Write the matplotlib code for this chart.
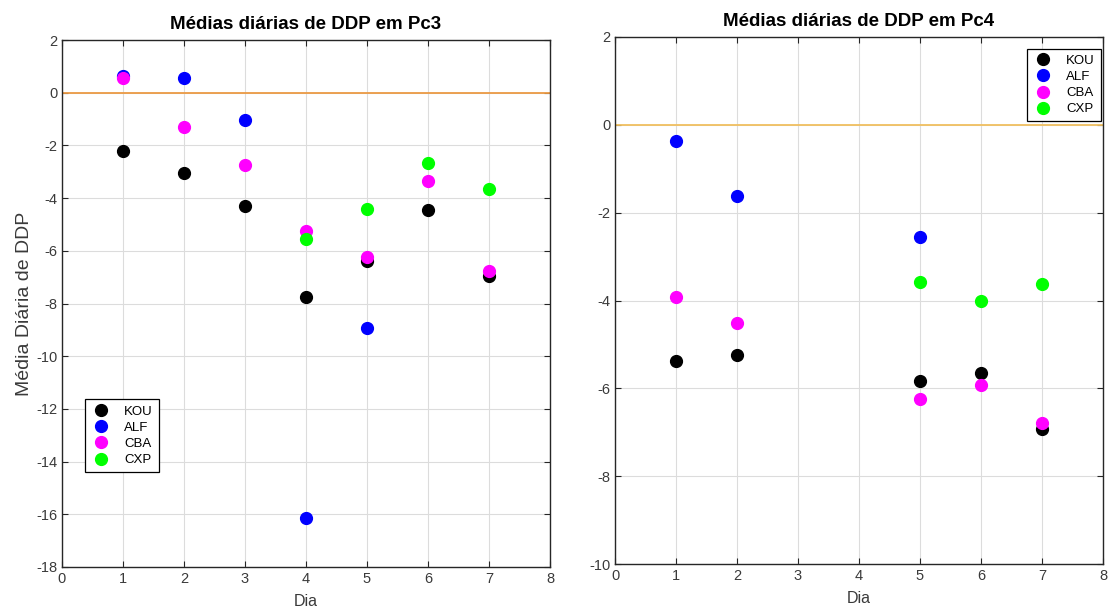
import matplotlib
matplotlib.use("Agg")
import matplotlib.pyplot as plt
import numpy as np

plt.rcParams['font.family'] = ['Liberation Sans', 'DejaVu Sans']
plt.rcParams['axes.unicode_minus'] = False

series_names = ["KOU", "ALF", "CBA", "CXP"]
series_colors = ["#000000", "#0000FF", "#FF00FF", "#00FF00"]

# Pc3 - daily means (day, value)
pc3_days = {
    "KOU": [1, 2, 3, 4, 5, 6, 7],
    "ALF": [1, 2, 3, 4, 5],
    "CBA": [1, 2, 3, 4, 5, 6, 7],
    "CXP": [4, 5, 6, 7],
}
pc3_vals = {
    "KOU": [-2.20, -3.04, -4.30, -7.75, -6.40, -4.44, -6.95],
    "ALF": [0.65, 0.54, -1.04, -16.13, -8.92],
    "CBA": [0.56, -1.29, -2.73, -5.24, -6.22, -3.34, -6.78],
    "CXP": [-5.56, -4.41, -2.66, -3.65],
}

# Pc4 - daily means
pc4_days = {
    "KOU": [1, 2, 5, 6, 7],
    "ALF": [1, 2, 5],
    "CBA": [1, 2, 5, 6, 7],
    "CXP": [5, 6, 7],
}
pc4_vals = {
    "KOU": [-5.37, -5.24, -5.84, -5.64, -6.92],
    "ALF": [-0.36, -1.63, -2.56],
    "CBA": [-3.92, -4.52, -6.24, -5.92, -6.80],
    "CXP": [-3.58, -4.01, -3.63],
}

fig = plt.figure(figsize=(11.12, 6.15), dpi=100)
ax1 = fig.add_axes([62 / 1112, (615 - 567) / 615, 488 / 1112, 527 / 615])
ax2 = fig.add_axes([615 / 1112, (615 - 564) / 615, 488 / 1112, 527 / 615])


def style_axes(ax, ylim, yticks):
    ax.set_xlim(0, 8)
    ax.set_ylim(*ylim)
    ax.set_xticks(range(0, 9))
    ax.set_yticks(yticks)
    ax.grid(True, color="#DCDCDC", linewidth=0.8)
    ax.set_axisbelow(True)
    ax.tick_params(direction="in", top=True, right=True, length=4,
                   color="#262626", labelcolor="#3A3A3A", labelsize=10.5)
    for sp in ax.spines.values():
        sp.set_color("#262626")
        sp.set_linewidth(1.0)


def draw(ax, days, vals, zero_color):
    ax.axhline(0, color=zero_color, linewidth=1.3, zorder=1.5)
    for name, col in zip(series_names, series_colors):
        ax.plot(days[name], vals[name], "o", color=col, markersize=8.5,
                linestyle="none", label=name, zorder=3)


def add_legend(ax, loc, anchor):
    leg = ax.legend(loc=loc, bbox_to_anchor=anchor, fontsize=9.5,
                    fancybox=False, edgecolor="black", framealpha=1,
                    handletextpad=1.0, borderpad=0.45, labelspacing=0.3,
                    handlelength=1.5, borderaxespad=0)
    leg.get_frame().set_linewidth(0.9)
    return leg


draw(ax1, pc3_days, pc3_vals, "#EB9A45")
style_axes(ax1, (-18, 2), range(-18, 3, 2))
ax1.set_title("Médias diárias de DDP em Pc3", fontsize=13.5, fontweight="bold", pad=8)
ax1.set_xlabel("Dia", fontsize=11.5, color="#3A3A3A", labelpad=6)
ax1.set_ylabel("Média Diária de DDP", fontsize=14, color="#3A3A3A", labelpad=2)
add_legend(ax1, "upper left", (0.048, 0.318))

draw(ax2, pc4_days, pc4_vals, "#F0C060")
style_axes(ax2, (-10, 2), range(-10, 3, 2))
ax2.set_title("Médias diárias de DDP em Pc4", fontsize=13.5, fontweight="bold", pad=8)
ax2.set_xlabel("Dia", fontsize=11.5, color="#3A3A3A", labelpad=6)
add_legend(ax2, "upper right", (0.995, 0.978))

fig.savefig("out.png", dpi=100)
